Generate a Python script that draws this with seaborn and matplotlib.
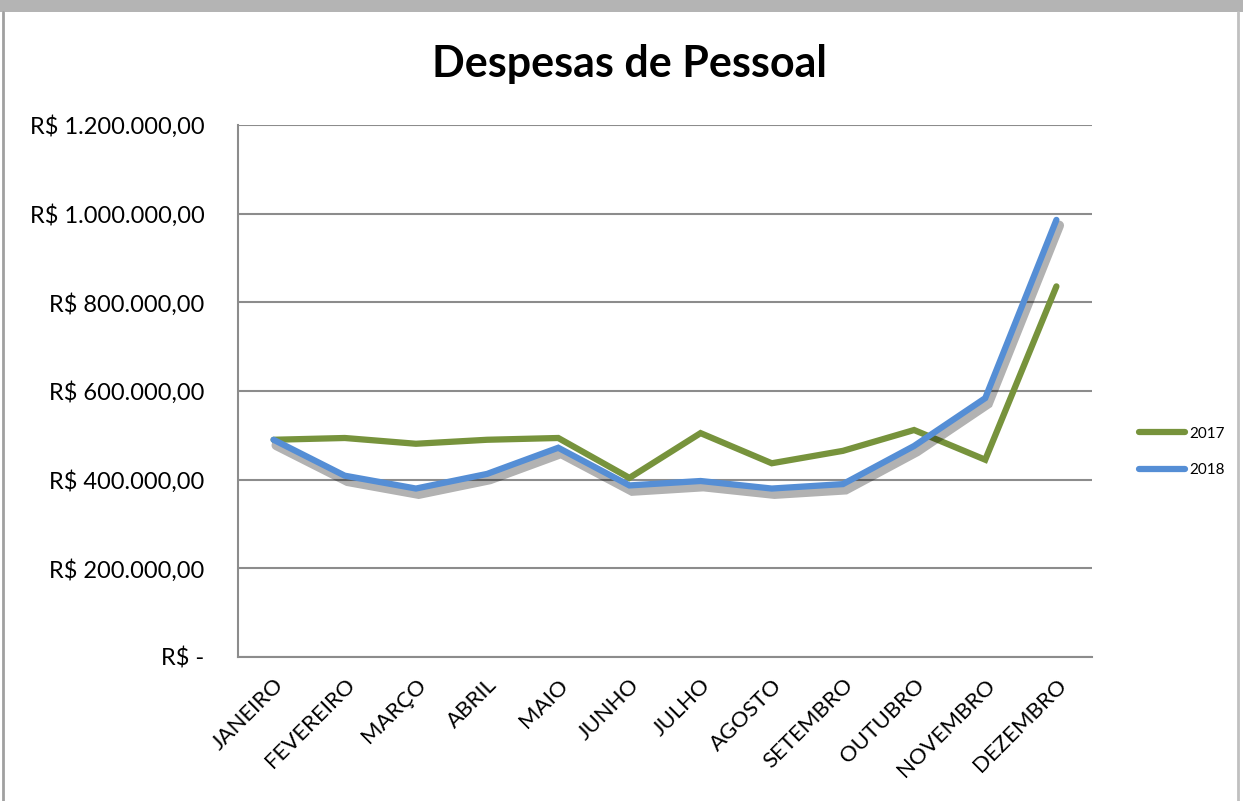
import matplotlib
matplotlib.use("Agg")
import matplotlib.pyplot as plt
import matplotlib.patheffects as pe
from matplotlib.patches import Rectangle
from matplotlib.lines import Line2D
import seaborn as sns
import pandas as pd

months = ["JANEIRO", "FEVEREIRO", "MARÇO", "ABRIL", "MAIO", "JUNHO", "JULHO",
          "AGOSTO", "SETEMBRO", "OUTUBRO", "NOVEMBRO", "DEZEMBRO"]
v2017 = [490000, 494000, 481000, 490000, 494000, 404000, 505000,
         437000, 465000, 512000, 445000, 836000]
v2018 = [490000, 409000, 380000, 413000, 472000, 387000, 397000,
         380000, 390000, 476000, 584000, 986000]
series_names = ["2017", "2018"]
yticks = [0, 200000, 400000, 600000, 800000, 1000000, 1200000]
ytick_labels = ["R$ -", "R$ 200.000,00", "R$ 400.000,00", "R$ 600.000,00",
                "R$ 800.000,00", "R$ 1.000.000,00", "R$ 1.200.000,00"]
title = "Despesas de Pessoal"

colors = {"2017": "#77933C", "2018": "#558ED5"}

df = pd.DataFrame({
    "mes": months * 2,
    "idx": list(range(12)) * 2,
    "valor": v2017 + v2018,
    "ano": [series_names[0]] * 12 + [series_names[1]] * 12,
})

sns.set_style("white")
plt.rcParams["font.family"] = ["Lato", "DejaVu Sans"]
plt.rcParams["text.color"] = "black"
plt.rcParams["xtick.color"] = "black"
plt.rcParams["ytick.color"] = "black"

fig = plt.figure(figsize=(12.43, 8.01), dpi=100)
fig.patch.set_facecolor("white")
ax = fig.add_axes([238/1243, 1-657/801, (1092-238)/1243, (657-125)/801])

sns.lineplot(data=df, x="idx", y="valor", hue="ano", palette=colors,
             linewidth=4.5, ax=ax, legend=False, sort=False)

for line in ax.get_lines():
    if matplotlib.colors.to_hex(line.get_color()).lower() == colors["2018"].lower():
        line.set_path_effects([pe.SimpleLineShadow(offset=(2, -4), shadow_color="k", alpha=0.3, linewidth=7),
                               pe.Normal()])
    line.set_solid_capstyle("round")
    line.set_solid_joinstyle("miter")

ax.set_xlim(-0.5, 11.5)
ax.set_ylim(0, 1200000)
ax.set_yticks(yticks)
ax.set_yticklabels(ytick_labels, fontsize=17)
ax.set_xticks(range(12))
ax.set_xticklabels(months, rotation=45, ha="right", rotation_mode="anchor", fontsize=16)
ax.tick_params(axis="y", length=0, pad=24)
ax.tick_params(axis="x", length=0, pad=13)
ax.set_xlabel("")
ax.set_ylabel("")
ax.grid(axis="y", color="#8c8c8c", linewidth=1.5)
ax.set_axisbelow(True)
for s in ["top", "right"]:
    ax.spines[s].set_visible(False)
for s in ["left", "bottom"]:
    ax.spines[s].set_color("#8c8c8c")
    ax.spines[s].set_linewidth(1.5)

fig.text(630/1243, 1-64/801, title, ha="center", va="center", fontsize=31, fontweight="bold")

handles = [Line2D([0], [0], color=colors[n], linewidth=4.5, solid_capstyle="round") for n in series_names]
leg = fig.legend(handles, series_names, loc="center left", bbox_to_anchor=(1125/1243, 1-452/801),
                 frameon=False, fontsize=11, handlelength=3.0, handletextpad=0.3, labelspacing=1.5)

# window frame look
fig.patches.append(Rectangle((0, 1-12/801), 1, 12/801, transform=fig.transFigure,
                             facecolor="#b4b4b4", edgecolor="none", zorder=0))
fig.lines.append(Line2D([3/1243, 3/1243], [0, 1-12/801], transform=fig.transFigure, color="#a0a0a0", linewidth=2))
fig.lines.append(Line2D([1238/1243, 1238/1243], [0, 1-12/801], transform=fig.transFigure, color="#c0c0c0", linewidth=2))

fig.savefig("out.png", dpi=100)
